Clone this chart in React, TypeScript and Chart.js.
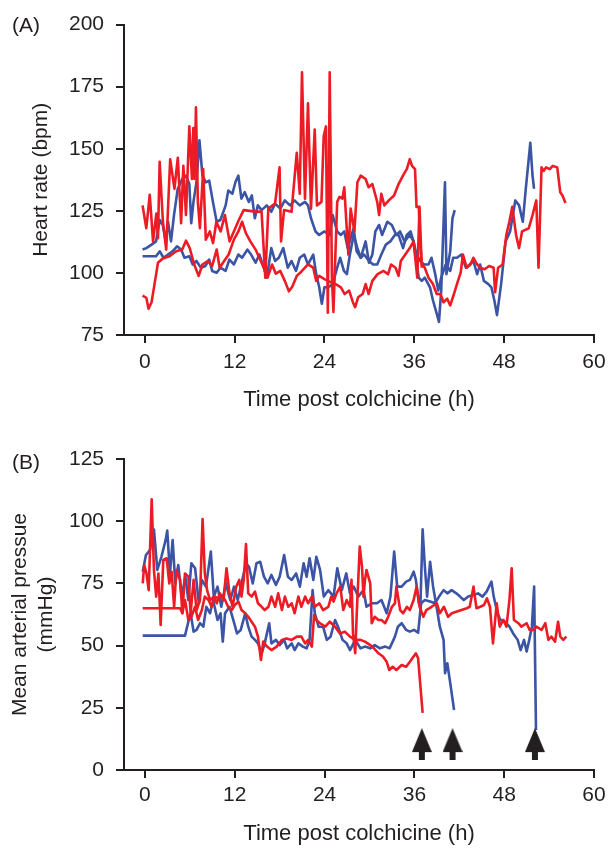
import React, { useEffect, useRef } from 'react';
import { Chart, registerables } from 'chart.js';

Chart.register(...registerables);

type Pt = [number, number];

const panelLabels = ['(A)', '(B)'];
const xTitle = 'Time post colchicine (h)';
const hrTitle = 'Heart rate (bpm)';
const mapTitle = ['Mean arterial pressue', '(mmHg)'];
const xTickValues = [0, 12, 24, 36, 48, 60];
const hrTickValues = [75, 100, 125, 150, 175, 200];
const mapTickValues = [0, 25, 50, 75, 100, 125];

// Panel A: heart rate (bpm) vs time (h)
const hrRed1: Pt[] = [
  [-0.3, 127.2], [0.2, 118], [0.66, 131.5], [1.1, 112.7], [1.54, 123.9], [1.76, 114], [1.98, 144.7], [2.42, 120.6],
  [2.86, 109.4], [3.39, 145.8], [3.96, 133.9], [4.41, 146.4], [4.85, 120], [5.15, 143.1], [5.5, 123.3], [5.95, 159],
  [6.3, 137.8], [6.48, 158.3], [6.65, 137.8], [6.83, 166.7], [7.09, 128.6], [7.36, 118], [7.8, 141.8], [8.15, 113.4],
  [8.68, 116.7], [9.12, 112], [9.56, 120.6], [10.13, 116.7], [10.7, 123.3], [11.32, 112.7], [11.9, 116.7], [12.56, 121.3],
  [13.2, 125.3], [14.3, 124.9], [15.6, 124.6], [16.1, 98.1], [16.5, 125.9], [17.4, 127.9], [18, 142.5], [18.2, 112.7],
  [18.6, 125.3], [19.6, 124.6], [20.3, 148.4], [20.7, 131.9], [21.0, 180.8], [21.4, 129.9], [21.8, 168.3], [22.2, 125.9],
  [22.7, 157.7], [23.0, 127.2], [23.6, 128.6], [23.9, 155], [24.2, 159], [24.45, 84], [24.7, 180.8], [25.0, 98.1],
  [25.2, 84.3], [25.7, 128.6], [26.0, 130.6], [26.4, 129.9], [26.65, 134.5], [27.0, 116.7], [27.2, 107.4], [27.5, 125.9],
  [28.0, 116.7], [28.4, 136.5], [28.85, 139.2], [29.5, 137.8], [29.9, 134.5], [30.4, 135.8], [31.05, 128.6], [31.3, 123.3],
  [31.6, 131.9], [32.0, 127.2], [32.6, 129.2], [33.3, 131.2], [33.9, 135.8], [34.6, 139.8], [35.0, 141.8], [35.4, 145.8],
  [35.7, 143.1], [36.1, 141.8], [36.3, 126.6], [36.6, 126.6], [36.8, 112.7], [37.0, 103.4], [37.4, 102.1], [37.9, 98.1],
  [38.5, 95.5], [39.0, 91.5], [39.5, 91.5], [39.9, 88.2], [40.4, 89.6], [40.8, 86.9], [41.3, 91.5], [41.7, 95.5],
  [42.2, 100.1], [42.5, 107.4], [43.0, 102.1], [43.5, 103.4], [43.9, 106.1], [44.4, 103.4], [44.8, 102.1], [45.4, 101.5],
  [46.0, 102.8], [46.6, 102.1], [46.8, 92.2], [47.2, 102.1], [47.8, 103.4], [48.3, 115.3], [48.7, 120.6], [49.1, 126.6],
  [49.6, 115.3], [50.0, 110], [50.4, 116.7], [51.3, 118], [51.8, 123.3], [52.3, 129.2], [52.6, 102.1], [53.0, 142.5],
  [53.3, 141.1], [53.6, 142.5], [54.1, 141.8], [54.5, 143.1], [55.1, 142.5], [55.5, 132.5], [55.8, 131.2], [56.2, 128.2],
];

const hrRed2: Pt[] = [
  [-0.3, 90.9], [0.2, 90], [0.5, 85.6], [0.9, 88.2], [1.3, 95.5], [1.76, 104.1], [2.4, 105.8], [3.3, 106.7],
  [4.2, 108.7], [5.0, 109.4], [5.5, 113], [6.0, 110], [6.6, 103.4], [7.2, 98.8], [7.7, 103.4], [8.4, 104.8],
  [9.0, 102.8], [9.6, 109.4], [10.0, 102.1], [10.6, 104.8], [11.2, 107.4], [11.9, 113.4], [12.5, 116.7], [13.0, 120.6],
  [13.5, 116], [14.1, 112.7], [14.8, 109.4], [15.3, 106.1], [15.9, 102.1], [16.4, 98.1], [17.0, 103.4], [17.5, 99.7],
  [18.1, 100.8], [18.7, 96.8], [19.25, 92.6], [19.7, 94.4], [20.3, 98.8], [20.9, 100.5], [21.8, 103.4], [22.5, 102.1],
  [22.9, 96.8], [23.3, 98.8], [24.0, 97.5], [24.9, 96.2], [25.5, 95.5], [26.2, 94.2], [26.7, 91.5], [27.3, 92.9],
  [27.8, 88.2], [28.1, 86.2], [28.5, 90.2], [29.1, 91.5], [29.5, 95.5], [29.9, 91.5], [30.4, 96.8], [31.1, 99.5],
  [31.9, 100.8], [32.5, 99.5], [32.9, 103.4], [33.5, 102.1], [33.9, 98.8], [34.2, 104.8], [34.8, 107.4], [35.4, 110],
  [35.9, 112.7], [36.4, 98.1], [36.7, 126.6], [37.0, 102.1],
];

const hrBlue1: Pt[] = [
  [-0.3, 109.4], [0.2, 110], [0.9, 111.4], [1.5, 112.7], [2.0, 121.3], [2.4, 119.3], [2.8, 112.7], [3.1, 120.6],
  [3.5, 112.7], [3.9, 123.3], [4.4, 133.9], [5.0, 137.8], [5.5, 139.2], [5.95, 135.8], [6.2, 120], [6.5, 128.6],
  [6.9, 136.5], [7.3, 153.4], [7.7, 139.2], [8.15, 136.5], [8.6, 137.2], [9.1, 128.6], [9.6, 120.6], [10.1, 121.3],
  [10.8, 127.2], [11.15, 133.2], [11.7, 131.9], [12.1, 136.5], [12.5, 139.2], [12.9, 129.9], [13.35, 132.5], [13.9, 128.6],
  [14.3, 131.2], [14.7, 122], [15.1, 127.2], [15.6, 125.3], [16.3, 127.2], [16.9, 124.6], [17.4, 127.9], [18.1, 125.9],
  [18.7, 129.2], [19.4, 127.2], [20.0, 129.2], [20.7, 127.2], [21.4, 128.6], [21.8, 127.2], [22.2, 122], [22.8, 116.7],
  [23.3, 115.3], [24.0, 116.7], [24.7, 115.3], [25.1, 123.3], [25.7, 116.7], [26.2, 115.3], [26.65, 116.7], [27.1, 110],
  [27.9, 118], [28.3, 108.7], [28.85, 106.1], [29.5, 112.7], [29.95, 104.1], [30.4, 107.4], [30.8, 116.7], [31.3, 119.3],
  [31.7, 115.3], [32.4, 120.6], [33.0, 119.3], [33.6, 115.3], [34.1, 116.7], [34.7, 112.7], [35.4, 115.3], [35.9, 112.7],
  [36.6, 98.1], [37.0, 96.8], [37.4, 98.1], [38.1, 94.2], [38.5, 88.9], [39.0, 83.6], [39.3, 80.3], [39.6, 92.9],
  [40.1, 136.5], [40.3, 99.5], [40.8, 108.7], [41.1, 122], [41.4, 125.3],
];

const hrBlue2: Pt[] = [
  [-0.3, 106.7], [1.5, 106.7], [2.0, 108.7], [2.5, 106.1], [3.1, 107.4], [3.7, 108.7], [4.3, 110.7], [4.85, 109.4],
  [5.3, 106.1], [5.95, 106.7], [6.4, 103.4], [6.9, 104.8], [7.5, 102.1], [8.1, 102.8], [8.6, 105.4], [9.0, 100.8],
  [9.6, 100.1], [10.1, 102.1], [10.8, 100.8], [11.3, 105.4], [11.9, 103.4], [12.5, 107.4], [13.0, 106.1], [13.7, 109.4],
  [14.2, 107.4], [14.8, 104.1], [15.3, 107.4], [15.9, 102.1], [16.3, 98.1], [16.9, 110], [17.4, 104.8], [17.9, 106.1],
  [18.5, 110], [19.1, 102.1], [19.6, 104.8], [20.2, 100.8], [20.7, 106.1], [21.3, 107.4], [21.8, 103.4], [22.5, 107.4],
  [22.9, 99.5], [23.3, 94.2], [23.65, 87.6], [24.0, 94.2], [24.5, 94.2], [25.1, 95.5], [25.7, 102.1], [26.1, 106.1],
  [26.6, 100.8], [27.0, 99.5], [27.4, 107.4], [27.9, 115.3], [28.4, 110], [28.85, 106.1], [29.3, 107.4], [29.95, 104.8],
  [30.5, 103.4], [31.05, 103.4], [31.6, 107.4], [32.2, 111.4], [32.8, 112.7], [33.4, 115.3], [33.9, 115.3], [34.5, 110],
  [35.0, 115.3], [35.5, 116.7], [35.9, 112.7], [36.3, 107.4], [36.8, 104.8], [37.3, 103.4], [37.9, 103.4], [38.3, 106.1],
  [38.8, 99.5], [39.2, 92.9], [39.6, 98.1], [40.2, 103.4], [40.8, 100.8], [41.2, 106.1], [41.7, 106.1], [42.3, 107.4],
  [42.9, 102.1], [43.4, 103.4], [43.9, 104.8], [44.4, 99.5], [44.8, 103.4], [45.3, 96.8], [45.9, 95.5], [46.3, 94.2],
  [46.7, 88.9], [47.05, 83], [47.6, 95.5], [48.2, 112.7], [48.8, 116.7], [49.5, 129.2], [50.0, 127.2], [50.5, 120.6],
  [50.9, 133.9], [51.2, 143.1], [51.5, 152.4], [51.8, 139.2], [52.0, 133.9],
];

// Panel B: mean arterial pressure (mmHg) vs time (h)
const mapRed1: Pt[] = [
  [-0.3, 75], [-0.1, 82.4], [0.2, 79], [0.5, 72.3], [0.9, 108.8], [1.2, 80.4], [1.5, 69.7], [1.8, 79],
  [2.1, 58.3], [2.45, 84.4], [2.9, 85.1], [3.25, 75], [3.56, 79.7], [3.9, 65.6], [4.2, 80.4], [4.7, 76.4],
  [5.0, 63], [5.35, 79], [5.8, 77.7], [6.1, 63], [6.5, 76.4], [6.9, 64.3], [7.35, 68.3], [7.7, 100.9],
  [8.0, 79], [8.3, 72.3], [8.7, 68.3], [9.2, 69.7], [9.6, 67], [10.0, 71], [10.5, 68.3], [10.9, 81.1],
  [11.3, 71], [11.7, 65.6], [12.2, 73.7], [12.6, 76.4], [12.9, 69.7], [13.2, 76.4], [13.5, 90.8], [13.8, 71],
  [14.25, 69.7], [14.7, 71.7], [15.1, 67], [15.6, 65.6], [16.0, 64.3], [16.5, 65.6], [16.9, 69.7], [17.4, 65.6],
  [17.8, 71], [18.3, 64.3], [18.7, 69.7], [19.15, 65.6], [19.6, 67], [20.0, 63], [20.5, 69.7], [20.9, 65.6],
  [21.4, 69.7], [21.8, 67], [22.3, 69.7], [22.7, 65.6], [23.3, 67], [23.8, 64.3], [24.5, 65.6], [24.9, 69.7],
  [25.2, 67.7], [25.6, 71], [26.1, 73.7], [26.5, 64.3], [26.95, 68.3], [27.4, 65.6], [27.6, 76.4], [27.8, 54.9],
  [28.1, 46.9], [28.3, 63], [28.7, 89.8], [29.0, 81.7], [29.2, 69.7], [29.4, 76.4], [29.6, 80.4], [30.1, 75],
  [30.3, 59], [30.7, 61.6], [31.2, 60.3], [31.6, 60.3], [32.1, 59], [32.5, 61.6], [33.0, 65.6], [33.4, 67],
  [33.6, 73.7], [34.1, 64.3], [34.5, 63], [35.0, 65.6], [35.4, 64.3], [35.9, 68.3], [36.3, 73.7], [36.7, 65.6],
  [37.2, 61.6], [37.6, 64.3], [38.3, 65.6], [39.0, 67], [39.4, 63], [39.95, 65.6], [40.5, 61.6], [41.0, 63],
  [41.6, 63.6], [42.3, 64.3], [43.0, 65], [43.4, 65.6], [43.9, 73.7], [44.3, 65], [44.8, 65.6], [45.3, 66.3],
  [45.7, 69], [46.1, 65.6], [46.5, 50.9], [47.0, 67], [47.4, 57.6], [47.9, 60.3], [48.3, 57.6], [48.7, 68.3],
  [49.0, 81.1], [49.3, 60.3], [49.9, 59], [50.3, 57.6], [51.0, 59], [51.4, 56.3], [51.9, 56.3], [52.3, 57.6],
  [53.0, 56.3], [53.5, 59], [53.9, 52.3], [54.3, 53.6], [54.8, 51.6], [55.2, 59.6], [55.5, 53.6], [55.9, 52.3],
  [56.3, 53.6],
];

const mapRed2: Pt[] = [
  [-0.3, 65], [4.7, 65], [5.0, 63], [5.35, 68.3], [5.8, 60.3], [6.2, 61.6], [6.7, 65.6], [7.1, 60.3],
  [7.6, 64.3], [8.0, 69.7], [8.5, 68.3], [8.9, 65.6], [9.35, 69.7], [9.8, 69], [10.2, 70.3], [10.7, 68.3],
  [11.1, 65.6], [11.6, 64.3], [12.0, 66.3], [12.5, 67.7], [12.9, 64.3], [13.4, 63], [13.8, 61.6], [14.25, 59.6],
  [14.7, 57.6], [15.1, 53.6], [15.5, 44.2], [15.8, 51.6], [16.3, 49.6], [16.9, 48.2], [17.6, 49.6], [18.3, 52.3],
  [18.9, 52.9], [19.6, 52.3], [20.3, 53.6], [20.9, 53.6], [21.4, 50.9], [21.8, 52.3], [22.3, 49.6], [22.6, 62.3],
  [22.9, 60.3], [23.4, 59], [24.1, 57.6], [24.7, 59.6], [25.4, 57.6], [26.05, 54.9], [26.7, 55.6], [27.4, 53.6],
  [28.1, 52.3], [28.8, 52.3], [29.4, 51.6], [30.1, 50.2], [30.6, 48.9], [31.2, 46.9], [31.8, 45.6], [32.3, 43.5],
  [32.65, 40.2], [33.1, 41.5], [33.6, 40.2], [34.3, 42.2], [34.9, 41.5], [35.4, 43.5], [35.9, 45.6], [36.2, 46.9],
  [36.5, 44.9], [37.1, 23],
];

const mapBlue1: Pt[] = [
  [-0.3, 79.7], [0.13, 86.4], [0.67, 88.4], [1.2, 96.7], [1.65, 80.4], [2.2, 85.7], [2.76, 92.4], [2.98, 96.2],
  [3.34, 79], [3.7, 92.4], [4.05, 75], [4.45, 82.4], [4.9, 69.7], [5.4, 77.7], [5.8, 68.3], [6.2, 83.1],
  [6.7, 81.1], [7.2, 67], [7.6, 76.4], [8.15, 73.7], [8.8, 87.8], [9.2, 69.7], [9.7, 73.7], [10.2, 65.6],
  [10.8, 75], [11.4, 68.3], [11.9, 73.7], [12.4, 68.3], [13.0, 76.4], [13.5, 83.1], [13.9, 81.7], [14.4, 75],
  [14.9, 83.1], [15.4, 83.7], [15.9, 77.7], [16.4, 75], [16.9, 78.4], [17.5, 74.4], [18.0, 77.7], [18.6, 86.4],
  [19.1, 77.7], [19.6, 76.4], [20.2, 79], [20.7, 73.7], [21.2, 83.1], [21.6, 77.7], [22.0, 85.1], [22.5, 76.4],
  [22.9, 85.7], [23.4, 80.4], [23.9, 69.7], [24.5, 72.3], [25.2, 69.7], [25.7, 81.1], [26.3, 72.3], [26.9, 79],
  [27.4, 71], [27.9, 73.7], [28.5, 69.7], [29.2, 72.3], [29.6, 65.6], [30.3, 67], [31.0, 67], [31.6, 68.3],
  [32.3, 63], [32.8, 69.7], [33.3, 87.8], [33.7, 73.7], [34.3, 73.7], [34.9, 75.7], [35.4, 76.4], [35.9, 79.7],
  [36.2, 76.4], [36.6, 67], [36.8, 65.6], [37.1, 96.7], [37.4, 81.7], [37.7, 69.7], [38.1, 83.7], [38.5, 73.7],
  [39.0, 65], [39.4, 57.6], [39.9, 52.3], [40.1, 38.9], [40.4, 42.9], [40.8, 34.8], [41.3, 24.1],
];

const mapBlue2: Pt[] = [
  [-0.3, 54], [5.35, 54], [5.8, 59.6], [6.1, 63], [6.5, 55.6], [6.9, 56.3], [7.35, 59], [7.8, 57.6],
  [8.2, 65.6], [8.7, 63], [9.1, 68.3], [9.7, 60.3], [10.1, 63], [10.4, 51.6], [10.7, 63], [11.3, 65.6],
  [11.8, 60.3], [12.3, 54.9], [12.8, 56.3], [13.4, 63], [13.8, 57.6], [14.25, 53.6], [14.7, 52.3], [15.1, 50.9],
  [15.6, 46.9], [16.0, 50.9], [16.6, 59], [16.9, 50.9], [17.5, 52.3], [18.0, 50.2], [18.6, 52.3], [19.0, 48.9],
  [19.6, 50.9], [20.0, 48.2], [20.5, 50.9], [21.1, 49.6], [21.6, 48.9], [22.0, 52.3], [22.4, 72.3], [22.7, 63],
  [23.2, 57.6], [23.8, 57.6], [24.3, 52.3], [24.8, 53.6], [25.4, 60.3], [25.8, 57.6], [26.4, 52.3], [26.95, 50.9],
  [27.4, 48.2], [28.1, 52.3], [28.8, 48.9], [29.4, 49.6], [30.1, 48.9], [30.7, 50.2], [31.4, 48.9], [32.1, 49.6],
  [32.7, 48.9], [33.4, 53.6], [33.8, 57.6], [34.3, 59], [34.9, 56.3], [35.4, 55.6], [35.95, 56.3], [36.5, 55.2],
  [36.9, 67], [37.4, 68.3], [38.1, 67.7], [38.75, 67], [39.3, 69.7], [39.9, 72.3], [40.4, 71], [40.98, 72.3],
  [41.6, 71], [42.1, 69.7], [42.6, 68.3], [43.2, 69.7], [43.9, 70.3], [44.5, 71], [45.1, 69.7], [45.65, 71.7],
  [46.3, 75.7], [46.6, 69.7], [47.1, 63], [47.5, 60.3], [48.1, 59.6], [48.7, 57.6], [49.2, 54.9], [49.8, 52.3],
  [50.2, 48.2], [50.65, 52.3], [51.0, 47.6], [51.35, 52.3], [51.7, 57.6], [52.0, 73.7], [52.25, 16.1],
];

// Death markers (arrows) in panel B
const arrowTimes = [37.0, 41.1, 52.1];
const arrowLevel = 10.4;

const RED = '#ed1c24';
const BLUE = '#3b54a5';
const INK = '#231f20';
const FONT = "'Liberation Sans', Arial, Helvetica, sans-serif";

function lineSet(points: Pt[], color: string) {
  return {
    data: points.map(([x, y]) => ({ x, y })),
    borderColor: color,
    backgroundColor: color,
    borderWidth: 2.6,
    pointRadius: 0,
    pointHoverRadius: 0,
    tension: 0,
    fill: false,
    borderJoinStyle: 'round',
    borderCapStyle: 'butt',
  };
}

function makeArrowImage() {
  const c = document.createElement('canvas');
  c.width = 20;
  c.height = 32;
  const g = c.getContext('2d')!;
  g.fillStyle = INK;
  g.beginPath();
  g.moveTo(10, 0);
  g.lineTo(20, 24);
  g.lineTo(0, 24);
  g.closePath();
  g.fill();
  g.fillRect(7, 23, 6, 9);
  return c;
}

type PanelCfg = {
  padTop: number;
  padRight: number;
  yWidth: number;
  xHeight: number;
  xMin: number;
  xMax: number;
  yMin: number;
  yMax: number;
  yTicks: number[];
  yTitle: string | string[];
  yTitlePad: number;
  yTitleLineHeight: number;
  xTickPad: number;
  xTitlePad: number;
  datasets: any[];
};

function makeConfig(p: PanelCfg): any {
  return {
    type: 'line',
    data: { datasets: p.datasets },
    options: {
      animation: false,
      responsive: false,
      events: [],
      layout: { padding: { left: 0, top: p.padTop, right: p.padRight, bottom: 0 } },
      plugins: { legend: { display: false }, tooltip: { enabled: false } },
      scales: {
        x: {
          type: 'linear',
          min: p.xMin,
          max: p.xMax,
          afterBuildTicks: (s: any) => {
            s.ticks = xTickValues.map((v) => ({ value: v }));
          },
          afterFit: (s: any) => {
            s.height = p.xHeight;
          },
          grid: { drawOnChartArea: false, drawTicks: true, tickLength: 8, lineWidth: 2, tickWidth: 2, tickColor: INK, color: INK },
          border: { display: true, color: INK, width: 2 },
          ticks: { color: INK, font: { family: FONT, size: 21 }, padding: p.xTickPad, maxRotation: 0, autoSkip: false },
          title: { display: true, text: xTitle, color: INK, font: { family: FONT, size: 22 }, padding: { top: 0, bottom: p.xTitlePad } },
        },
        y: {
          type: 'linear',
          min: p.yMin,
          max: p.yMax,
          afterBuildTicks: (s: any) => {
            s.ticks = p.yTicks.map((v) => ({ value: v }));
          },
          afterFit: (s: any) => {
            s.width = p.yWidth;
          },
          grid: { drawOnChartArea: false, drawTicks: true, tickLength: 8, lineWidth: 2, tickWidth: 2, tickColor: INK, color: INK },
          border: { display: true, color: INK, width: 2 },
          ticks: { color: INK, font: { family: FONT, size: 21 }, padding: 12, autoSkip: false },
          title: {
            display: true,
            text: p.yTitle,
            color: INK,
            font: { family: FONT, size: 21, lineHeight: p.yTitleLineHeight },
            padding: { top: p.yTitlePad, bottom: 0 },
          },
        },
      },
    },
  };
}

const labelStyle = (top: number): React.CSSProperties => ({
  position: 'absolute',
  left: 12,
  top,
  fontFamily: FONT,
  fontSize: 21,
  lineHeight: '21px',
  color: INK,
});

export default function App() {
  const refA = useRef<HTMLCanvasElement>(null);
  const refB = useRef<HTMLCanvasElement>(null);

  useEffect(() => {
    const arrowImg = makeArrowImage();
    const chartA = new Chart(
      refA.current!,
      makeConfig({
        padTop: 20,
        padRight: 12,
        yWidth: 124,
        xHeight: 90,
        xMin: -2.78,
        xMax: 60,
        yMin: 75,
        yMax: 200,
        yTicks: hrTickValues,
        yTitle: hrTitle,
        yTitlePad: 28.5,
        yTitleLineHeight: 1.2,
        xTickPad: 6.4,
        xTitlePad: 11.4,
        datasets: [
          lineSet(hrRed1, RED),
          lineSet(hrRed2, RED),
          lineSet(hrBlue1, BLUE),
          lineSet(hrBlue2, BLUE),
        ],
      })
    );
    const chartB = new Chart(
      refB.current!,
      makeConfig({
        padTop: 34,
        padRight: 18,
        yWidth: 124,
        xHeight: 79,
        xMin: -2.8,
        xMax: 60,
        yMin: 0,
        yMax: 125,
        yTicks: mapTickValues,
        yTitle: mapTitle,
        yTitlePad: 6.7,
        yTitleLineHeight: 1.25,
        xTickPad: 4.4,
        xTitlePad: 1.4,
        datasets: [
          {
            data: arrowTimes.map((t) => ({ x: t, y: arrowLevel })),
            showLine: false,
            pointStyle: arrowImg,
            pointRadius: 10,
            pointHoverRadius: 10,
            borderWidth: 0,
          },
          lineSet(mapRed1, RED),
          lineSet(mapRed2, RED),
          lineSet(mapBlue1, BLUE),
          lineSet(mapBlue2, BLUE),
        ],
      })
    );
    return () => {
      chartA.destroy();
      chartB.destroy();
    };
  }, []);

  return (
    <div style={{ position: 'absolute', left: 0, top: 0, width: 612, height: 849, background: '#fff', overflow: 'hidden' }}>
      <canvas ref={refA} width={612} height={425} style={{ position: 'absolute', left: 0, top: 0, width: 612, height: 425 }} />
      <canvas ref={refB} width={612} height={424} style={{ position: 'absolute', left: 0, top: 425, width: 612, height: 424 }} />
      <div style={labelStyle(13.5)}>{panelLabels[0]}</div>
      <div style={labelStyle(450.7)}>{panelLabels[1]}</div>
    </div>
  );
}
